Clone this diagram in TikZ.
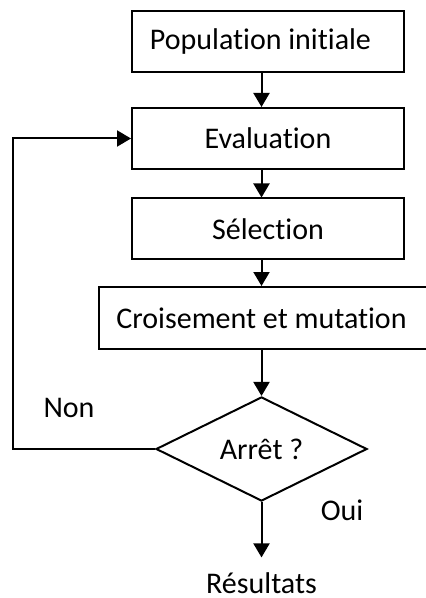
\documentclass[tikz,border=0pt]{standalone}
\usepackage{fontspec}
\setmainfont{Carlito}[Ligatures=NoCommon]
\usetikzlibrary{shapes.geometric,arrows.meta}
\tikzset{
  etape/.style={draw, line width=1pt, rectangle, minimum width=136pt,
    minimum height=30.5pt, inner sep=0pt},
  test/.style={draw, line width=1pt, diamond, minimum width=105.5pt,
    minimum height=45pt, inner sep=0pt},
  lien/.style={line width=1pt, -{Triangle[width=8pt,length=7pt]}},
  every node/.append style={font=\fontsize{15}{18}\selectfont}
}
\begin{document}
\begin{tikzpicture}[x=0.5pt,y=-0.5pt]
\useasboundingbox (0,0) rectangle (425,598);
\node[etape] (pop) at (268,41.5) {\hspace{-7.5pt}Population initiale};
\node[etape] (eval) at (268,138.5) {Evaluation};
\node[etape] (sel) at (268,229) {Sélection};
\node[etape, minimum width=164pt, minimum height=31pt] (cross) at (263,318) {\hspace{-1.5pt}Croisement et mutation};
\node[test] (stop) at (261.5,449) {Arrêt ?};
\node (res) at (261.5,583) {Résultats};
\node (non) at (69,408) {Non};
\node (oui) at (342,510) {Oui};
\draw[lien] (pop.south -| stop) -- (eval.north -| stop);
\draw[lien] (eval.south -| stop) -- (sel.north -| stop);
\draw[lien] (sel.south -| stop) -- (cross.north -| stop);
\draw[lien] (cross.south -| stop) -- (stop.north);
\draw[lien, shorten >=4pt] (stop.south) -- (res.north);
\draw[lien] (stop.west) -- ++(-142,0) |- (eval.west);
\end{tikzpicture}
\end{document}
